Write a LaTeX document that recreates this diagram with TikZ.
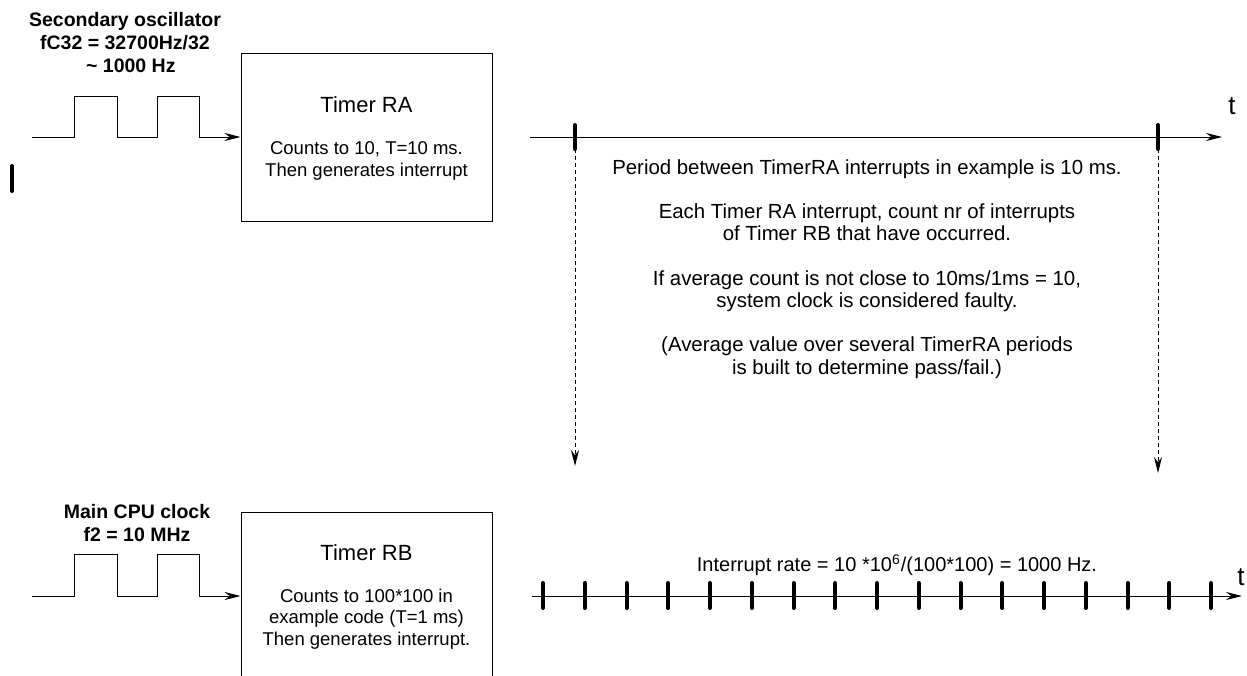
\documentclass[tikz,border=0pt]{standalone}
\usepackage{fontspec}
\setmainfont{Liberation Sans}
\usetikzlibrary{arrows.meta, calc}

\begin{document}
\begin{tikzpicture}[x=0.5pt, y=-0.5pt, >={Stealth[length=8pt, width=4pt]}, line width=0.5pt,
  timerbox/.style={draw, minimum width=125.5pt, minimum height=84pt, inner sep=0pt},
  clocklabel/.style={font=\fontsize{9.75}{11.5}\selectfont\bfseries, align=center, inner sep=0pt},
  bodytext/.style={font=\fontsize{9.25}{10.75}\selectfont, align=center, inner sep=0pt},
  notetext/.style={font=\fontsize{10.2}{11.1}\selectfont, align=center, inner sep=0pt},
  titletext/.style={font=\fontsize{11}{13}\selectfont, inner sep=0pt},
  axislabel/.style={font=\fontsize{13}{15}\selectfont, inner sep=0pt},
  tickmark/.style={line width=2pt, line cap=round},
  sync/.style={dash pattern=on 2pt off 1.5pt}]
  \useasboundingbox (0,0) rectangle (1247,675);
  \clip (0,0) rectangle (1247,675);

  % Timer RA (Secondary oscillator)
  \node[clocklabel] (osca) at (125,43) {Secondary oscillator\\fC32 = 32700Hz/32\\\hspace*{0.6em}\textasciitilde{} 1000 Hz};
  \node[timerbox] (ra) at (366.5,137) {};
  \node[titletext] (ratitle) at ($(ra.center)+(0,-32)$) {Timer RA};
  \node[bodytext] (ratext) at ($(ra.center)+(0,24)$) {Counts to 10, T=10 ms.\\Then generates interrupt};
  \coordinate (ina) at (32,137);
  \draw[->] (ina) -- ++(42,0) -- ++(0,-41) -- ++(43,0) -- ++(0,41) -- ++(40,0)
    -- ++(0,-41) -- ++(42,0) -- ++(0,41) -- (ra.west);
  \coordinate (marka) at (12,166);
  \coordinate (markb) at (12,191);
  \draw[tickmark] (marka) -- (markb);

  % Timer RB (Main CPU clock)
  \node[clocklabel] (oscb) at (137,523) {Main CPU clock\\f2 = 10 MHz};
  \node[timerbox] (rb) at (366.5,596) {};
  \node[titletext] (rbtitle) at ($(rb.center)+(0,-43)$) {Timer RB};
  \node[bodytext] (rbtext) at ($(rb.center)+(0,23)$) {Counts to 100*100 in\\example code (T=1 ms)\\Then generates interrupt.};
  \coordinate (inb) at (32,596);
  \draw[->] (inb) -- ++(42,0) -- ++(0,-42) -- ++(43,0) -- ++(0,42) -- ++(40,0)
    -- ++(0,-42) -- ++(42,0) -- ++(0,42) -- (rb.west);

  % time axis of Timer RA
  \coordinate (axa0) at (530,137);
  \coordinate (axa1) at (1222,137);
  \draw[->] (axa0) -- (axa1);
  \node[axislabel] (ta) at (1232,106) {t};
  \foreach \x/\n in {575/1, 1158/2} {
    \draw[tickmark] (\x,125) -- (\x,149) coordinate (ra\n);
  }
  \coordinate (hit1) at (575,466);
  \coordinate (hit2) at (1158,473);
  \draw[sync,->] (ra1) -- (hit1);
  \draw[sync,->] (ra2) -- (hit2);

  % explanation
  \node[notetext, anchor=north] (notes) at (867,159) {Period between TimerRA interrupts in example is 10 ms.\\[\baselineskip]
    Each Timer RA interrupt, count nr of interrupts\\of Timer RB that have occurred.\\[\baselineskip]
    If average count is not close to 10ms/1ms = 10,\\system clock is considered faulty.\\[\baselineskip]
    (Average value over several TimerRA periods\\is built to determine pass/fail.)};

  % time axis of Timer RB
  \coordinate (axb0) at (532,596);
  \coordinate (axb1) at (1242,596);
  \draw[->] (axb0) -- (axb1);
  \node[axislabel] (tb) at (1241,577) {t};
  \foreach \i in {0,...,16} {
    \draw[tickmark] ({543+41.75*\i},583) -- ++(0,25);
  }
  \node[notetext, font=\fontsize{10}{11}\selectfont] (rate) at (897,565) {Interrupt rate = 10 *10\textsuperscript{6}/(100*100) = 1000 Hz.};
\end{tikzpicture}
\end{document}
